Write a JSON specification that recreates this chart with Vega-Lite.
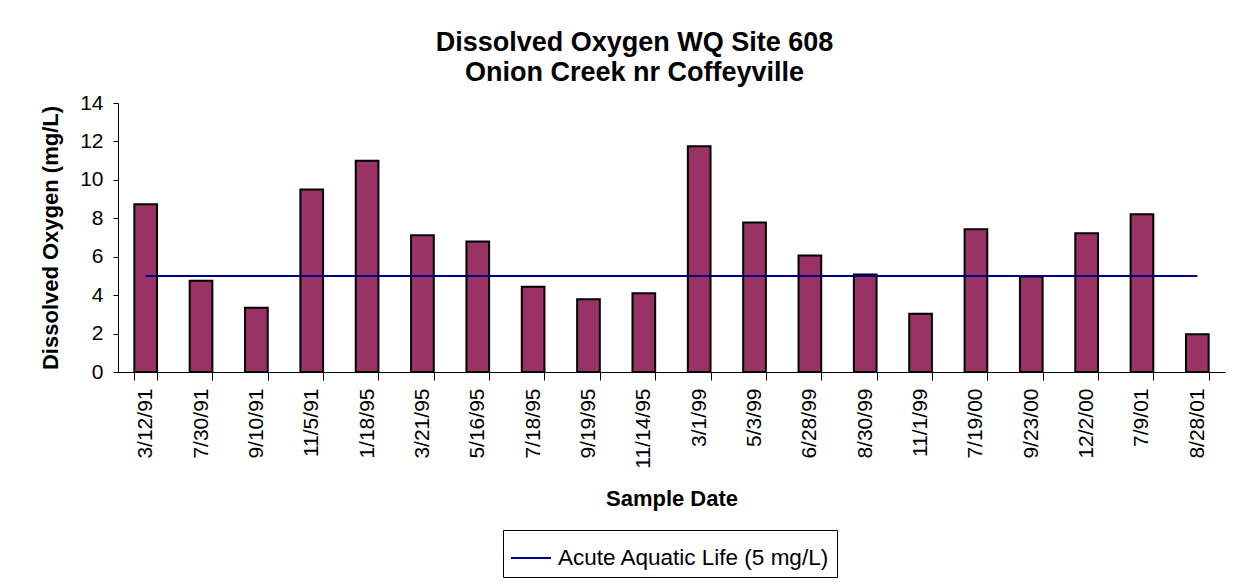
{
  "$schema": "https://vega.github.io/schema/vega-lite/v6.json",
  "autosize": "none",
  "width": 1107,
  "height": 269,
  "padding": {"left": 118, "top": 103, "right": 23, "bottom": 210},
  "background": "white",
  "title": {
    "text": ["Dissolved Oxygen WQ Site 608", "Onion Creek nr Coffeyville"],
    "font": "Liberation Sans",
    "fontSize": 27,
    "fontWeight": "bold",
    "color": "black",
    "anchor": "middle",
    "lineHeight": 30,
    "dx": -37,
    "offset": 5
  },
  "data": {
    "values": [
      {"date": "3/12/91", "do": 8.73, "standard": 5},
      {"date": "7/30/91", "do": 4.75, "standard": 5},
      {"date": "9/10/91", "do": 3.35, "standard": 5},
      {"date": "11/5/91", "do": 9.5, "standard": 5},
      {"date": "1/18/95", "do": 11.0, "standard": 5},
      {"date": "3/21/95", "do": 7.12, "standard": 5},
      {"date": "5/16/95", "do": 6.79, "standard": 5},
      {"date": "7/18/95", "do": 4.44, "standard": 5},
      {"date": "9/19/95", "do": 3.78, "standard": 5},
      {"date": "11/14/95", "do": 4.1, "standard": 5},
      {"date": "3/1/99", "do": 11.75, "standard": 5},
      {"date": "5/3/99", "do": 7.78, "standard": 5},
      {"date": "6/28/99", "do": 6.06, "standard": 5},
      {"date": "8/30/99", "do": 5.08, "standard": 5},
      {"date": "11/1/99", "do": 3.03, "standard": 5},
      {"date": "7/19/00", "do": 7.43, "standard": 5},
      {"date": "9/23/00", "do": 4.97, "standard": 5},
      {"date": "12/2/00", "do": 7.22, "standard": 5},
      {"date": "7/9/01", "do": 8.21, "standard": 5},
      {"date": "8/28/01", "do": 1.96, "standard": 5}
    ]
  },
  "encoding": {
    "x": {
      "field": "date",
      "type": "ordinal",
      "sort": null,
      "scale": {"paddingInner": 0.59, "paddingOuter": 0.295},
      "axis": {
        "title": "Sample Date",
        "labelAngle": 270,
        "tickBand": "extent",
        "tickSize": 8,
        "labelPadding": 8,
        "titlePadding": 20
      }
    }
  },
  "layer": [
    {
      "mark": {"type": "bar", "fill": "#993366", "stroke": "black", "strokeWidth": 2},
      "encoding": {
        "y": {
          "field": "do",
          "type": "quantitative",
          "scale": {"domain": [0, 14], "nice": false},
          "axis": {
            "title": "Dissolved Oxygen (mg/L)",
            "values": [0, 2, 4, 6, 8, 10, 12, 14],
            "tickCount": 8,
            "grid": false,
            "tickSize": 5,
            "labelPadding": 10,
            "labelOverlap": false,
            "labelFlush": false,
            "titlePadding": 17
          }
        }
      }
    },
    {
      "mark": {"type": "line", "strokeWidth": 2},
      "encoding": {
        "y": {
          "field": "standard",
          "type": "quantitative",
          "axis": {
            "title": "Dissolved Oxygen (mg/L)",
            "values": [0, 2, 4, 6, 8, 10, 12, 14],
            "tickCount": 8,
            "grid": false,
            "tickSize": 5,
            "labelPadding": 10,
            "labelOverlap": false,
            "labelFlush": false,
            "titlePadding": 17
          }
        },
        "color": {
          "datum": "Acute Aquatic Life (5 mg/L)",
          "type": "nominal",
          "scale": {"range": ["#000080"]},
          "legend": {"title": null}
        }
      }
    }
  ],
  "config": {
    "view": {"stroke": null},
    "axis": {
      "domainColor": "black",
      "domainWidth": 1,
      "tickColor": "black",
      "labelColor": "black",
      "labelFont": "Liberation Sans",
      "labelFontSize": 21,
      "titleFont": "Liberation Sans",
      "titleFontSize": 22,
      "titleFontWeight": "bold",
      "titleColor": "black"
    },
    "legend": {
      "orient": "none",
      "legendX": 385,
      "legendY": 427,
      "strokeColor": "black",
      "padding": 7,
      "symbolType": "stroke",
      "symbolSize": 1600,
      "symbolStrokeWidth": 2,
      "labelFont": "Liberation Sans",
      "labelFontSize": 22.5,
      "labelColor": "black",
      "labelOffset": 6,
      "labelLimit": 400
    }
  }
}
